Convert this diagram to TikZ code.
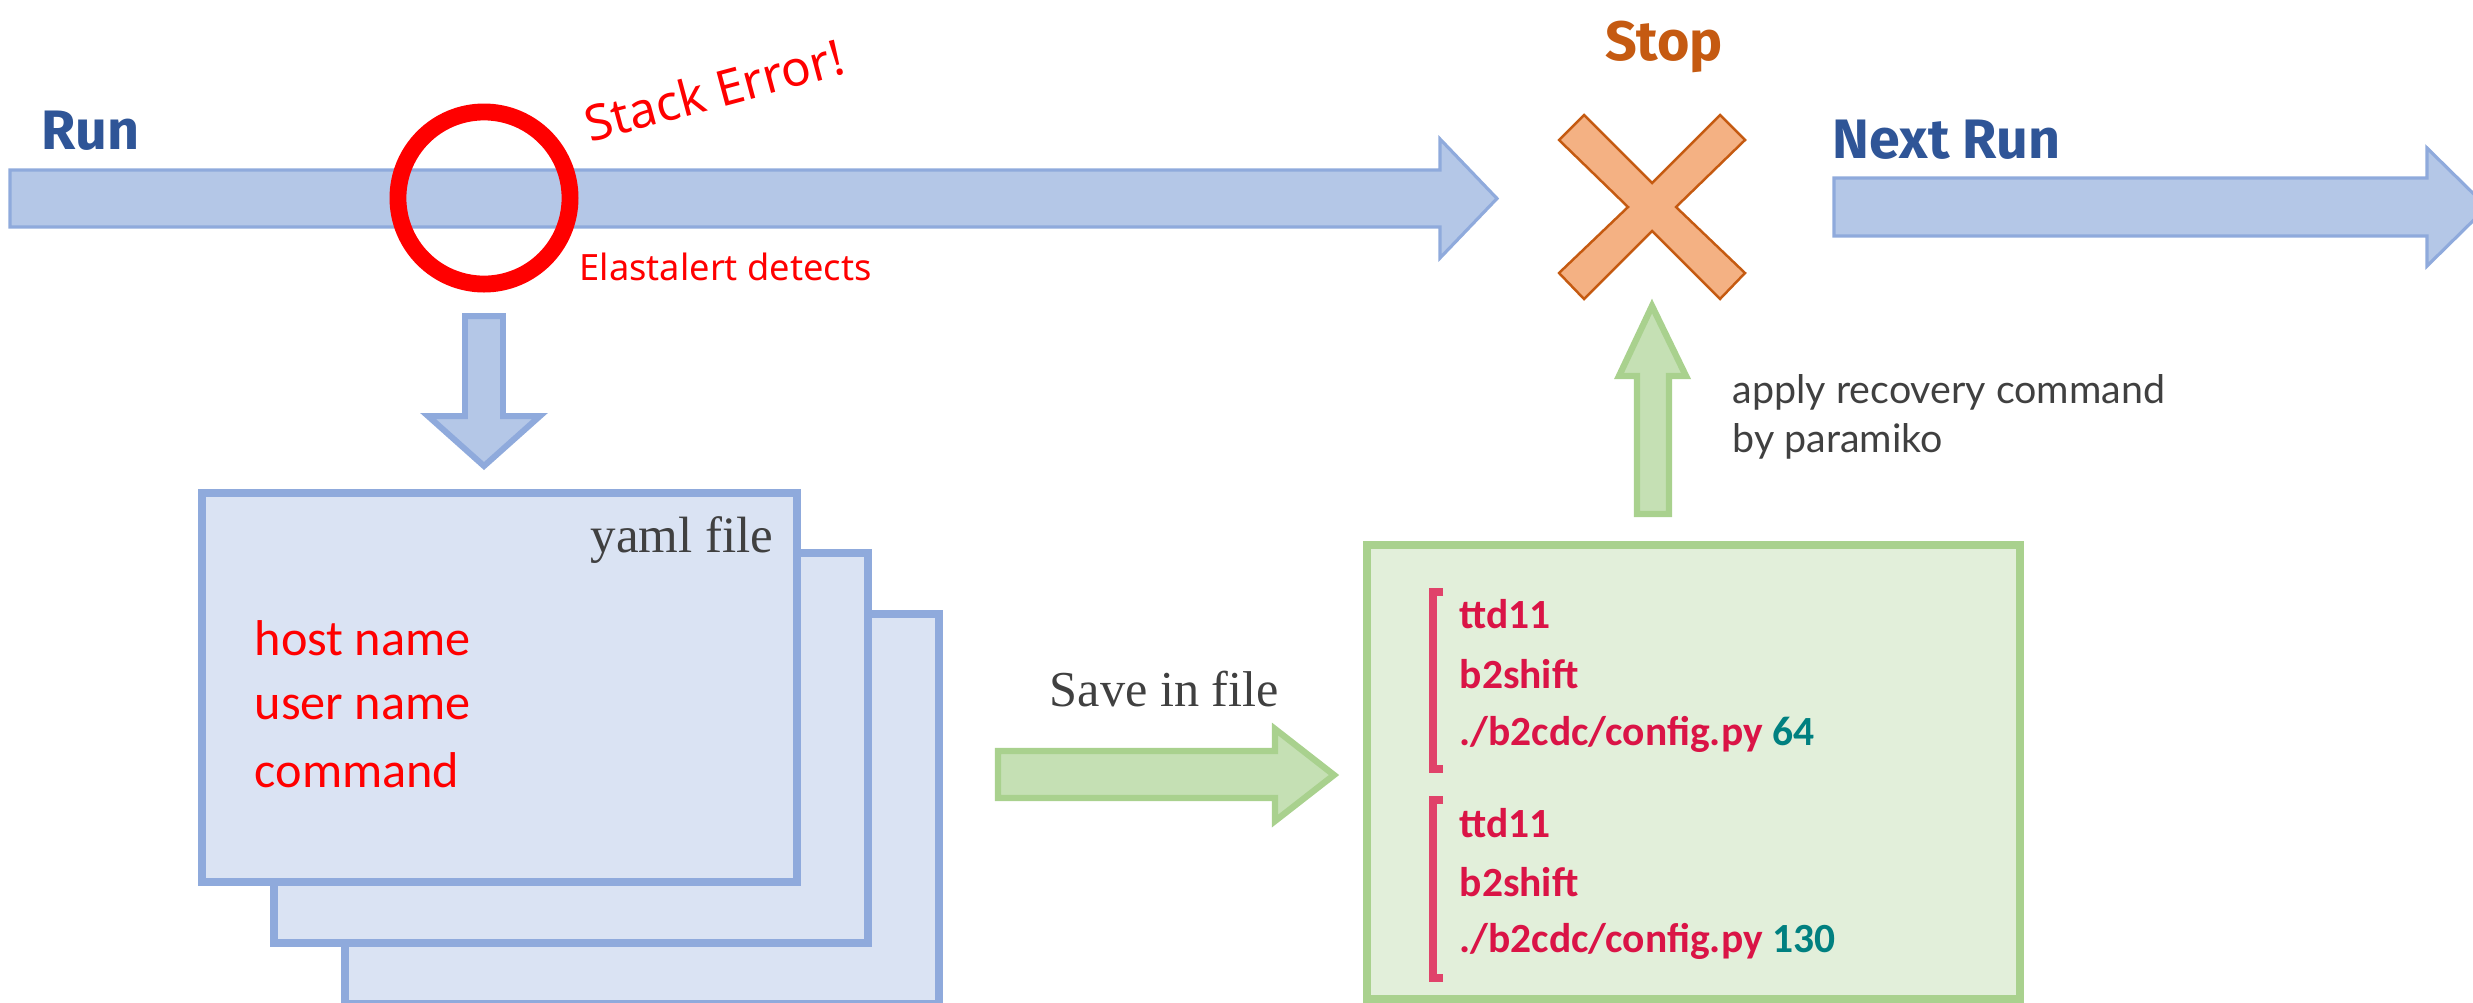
\documentclass[tikz,border=0pt]{standalone}
\usepackage{fontspec}
\setmainfont{Liberation Serif}
\newfontfamily\gothic{Noto Sans}
\newfontfamily\heading{Fira Sans}
\newfontfamily\calibri{Carlito}
\newfontfamily\gill{Lato}

\definecolor{runblue}{RGB}{47,85,151}
\definecolor{arrowfill}{RGB}{180,199,231}
\definecolor{arrowline}{RGB}{143,170,220}
\definecolor{boxfill}{RGB}{218,227,243}
\definecolor{grnfill}{RGB}{197,224,180}
\definecolor{grnline}{RGB}{169,209,142}
\definecolor{grnbox}{RGB}{226,239,218}
\definecolor{stoporange}{RGB}{197,90,17}
\definecolor{crossfill}{RGB}{244,177,131}
\definecolor{cmdred}{RGB}{218,20,70}
\definecolor{bracketred}{RGB}{224,67,106}
\definecolor{numteal}{RGB}{0,128,128}
\definecolor{darktext}{RGB}{64,64,64}

\tikzset{
  bluearrow/.style={fill=arrowfill, draw=arrowline, line width=0.9pt},
  thickblue/.style={fill=arrowfill, draw=arrowline, line width=1.7pt},
  grnarrow/.style={fill=grnfill, draw=grnline, line width=1.8pt},
  yamlbox/.style={fill=boxfill, draw=arrowline, line width=2.3pt},
  title/.style={font=\heading\bfseries\fontsize{15.8}{18}\selectfont, inner sep=0pt},
  cmdline/.style={font=\calibri\bfseries\fontsize{11.8}{14}\selectfont, text=cmdred, anchor=base west, inner sep=0pt},
  field/.style={font=\calibri\fontsize{14.3}{17}\selectfont, text=red, anchor=base west, inner sep=0pt},
  bracket/.style={draw=bracketred, line width=2.3pt}
}

\begin{document}
\begin{tikzpicture}[x=0.01cm, y=-0.01cm]

			\clip (0,0) rectangle (2473,1002);

			% Run timeline
			\draw[bluearrow] (10,170) -- (1440,170) -- (1440,139) -- (1497,198.5) -- (1440,258) -- (1440,227) -- (10,227) -- cycle;
			\node[title, text=runblue, anchor=base west] (run) at (41,149) {Run};

			% error spot
			\draw[red, line width=4.8pt] (484,198) circle (0.86cm);
			\node[font=\gothic\fontsize{14}{17}\selectfont, text=red, rotate=15, inner sep=0pt] (stackerr) at (714,90) {Stack Error!};
			\node[font=\gothic\fontsize{10.3}{12}\selectfont, text=red, anchor=base west, inner sep=0pt] (detect) at (579,280) {Elastalert detects};

			% Stop mark
			\draw[fill=crossfill, draw=stoporange, line width=0.7pt] (1584,115) -- (1652,183) -- (1720,115) -- (1745,140) -- (1676,207) -- (1745,273) -- (1720,299) -- (1652,231) -- (1584,299) -- (1559,273) -- (1628,207) -- (1559,140) -- cycle;
			\node[title, text=stoporange, anchor=base] (stop) at (1664,60) {Stop};

			% Next run
			\draw[bluearrow] (1834,178) -- (2427,178) -- (2427,148) -- (2487,207) -- (2427,266) -- (2427,236) -- (1834,236) -- cycle;
			\node[title, text=runblue, anchor=base west] (nextrun) at (1832,158) {Next Run};

			% down to the yaml files
			\draw[thickblue] (465,316) -- (503,316) -- (503,416) -- (540,416) -- (484,466) -- (428,416) -- (465,416) -- cycle;

			\draw[yamlbox] (345,614) rectangle (939,1004);
			\draw[yamlbox] (274,553) rectangle (868,943);
			\draw[yamlbox] (202,493) rectangle (797,882);

			\node[font=\fontsize{14.5}{17}\selectfont, text=darktext, anchor=base east, inner sep=0pt] (yaml) at (774,552) {yaml file};
			\node[field] (host) at (254,655) {host name};
			\node[field] (user) at (254,719) {user name};
			\node[field] (cmd) at (254,787) {command};

			% save step
			\draw[grnarrow] (998,751) -- (1275,751) -- (1275,729) -- (1334,775) -- (1275,821) -- (1275,798) -- (998,798) -- cycle;
			\node[font=\fontsize{14.3}{17}\selectfont, text=darktext, anchor=base west, inner sep=0pt] (save) at (1049,706) {Save in file};

			% saved commands
			\draw[fill=grnbox, draw=grnline, line width=2.4pt] (1367,545) rectangle (2020,999);

			\draw[bracket] (1443,592) -- (1433,592) -- (1433,769) -- (1443,769);
			\draw[bracket] (1443,800) -- (1433,800) -- (1433,978) -- (1443,978);

			\node[cmdline] (hostA) at (1459,628) {ttd11};
			\node[cmdline] (userA) at (1459,688) {b2shift};
			\node[cmdline] (cmdA) at (1459,745) {./b2cdc/config.py \textcolor{numteal}{64}};
			\node[cmdline] (hostB) at (1459,837) {ttd11};
			\node[cmdline] (userB) at (1459,896) {b2shift};
			\node[cmdline] (cmdB) at (1459,952) {./b2cdc/config.py \textcolor{numteal}{130}};

			% recovery
			\draw[grnarrow] (1637,514) -- (1637,376) -- (1619,376) -- (1652,306) -- (1686,376) -- (1669,376) -- (1669,514) -- cycle;
			\node[font=\gill\fontsize{11.2}{13}\selectfont, text=darktext, anchor=base west, inner sep=0pt] (apply) at (1732,403) {apply recovery command};
			\node[font=\gill\fontsize{11.2}{13}\selectfont, text=darktext, anchor=base west, inner sep=0pt] (para) at (1732,452) {by paramiko};

		\end{tikzpicture}
\end{document}
